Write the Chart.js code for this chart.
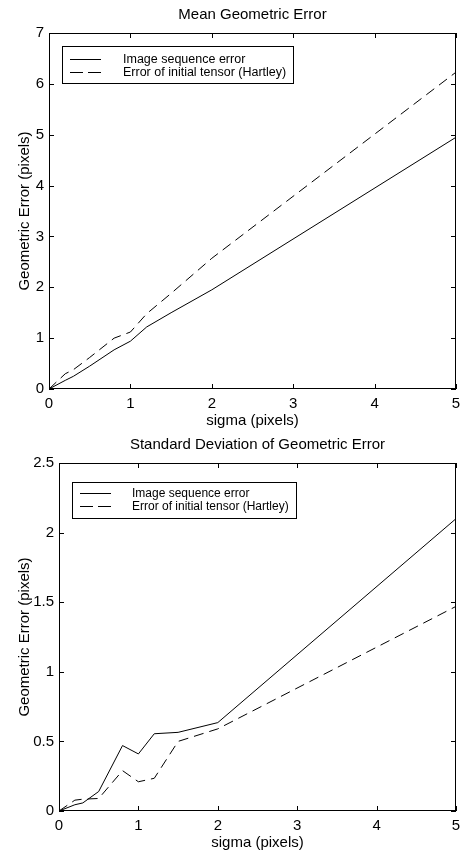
<!DOCTYPE html>
<html>
<head>
<meta charset="utf-8">
<script src="https://cdn.jsdelivr.net/npm/chart.js@4"></script>
<style>
  html, body { margin: 0; padding: 0; background: #fff; }
  .wrap { position: relative; width: 468px; }
  canvas { display: block; }
</style>
</head>
<body>
<div class="wrap" style="height:430px"><canvas id="meanChart"></canvas></div>
<div class="wrap" style="height:422px"><canvas id="stdChart"></canvas></div>
<script>
// sigma values (pixels)
const sigma = [0, 0.2, 0.3, 0.5, 0.8, 1.0, 1.2, 1.5, 2.0, 5.0];

// Mean geometric error
const meanSequence = [0, 0.17, 0.25, 0.45, 0.77, 0.94, 1.22, 1.5, 1.95, 4.95];
const meanHartley  = [0, 0.3, 0.38, 0.62, 1.0, 1.12, 1.48, 1.88, 2.57, 6.23];

// Standard deviation of geometric error
const stdSequence = [0, 0.045, 0.058, 0.14, 0.47, 0.41, 0.555, 0.565, 0.635, 2.1];
const stdHartley  = [0, 0.078, 0.085, 0.09, 0.29, 0.21, 0.235, 0.5, 0.59, 1.47];

const seriesLabels = ['Image sequence error', 'Error of initial tensor (Hartley)'];
const xTicks = [0, 1, 2, 3, 4, 5];
const meanYTicks = [0, 1, 2, 3, 4, 5, 6, 7];
const stdYTicks = [0, 0.5, 1, 1.5, 2, 2.5];

const FONT = 'Liberation Sans, Arial, Helvetica, sans-serif';

// frame with inward ticks on all four sides
const framePlugin = {
  id: 'frame',
  afterDraw(chart) {
    const { ctx, chartArea: a, scales } = chart;
    ctx.save();
    ctx.strokeStyle = '#000';
    ctx.lineWidth = 1;
    ctx.strokeRect(a.left + 0.5, a.top + 0.5, a.right - a.left - 1, a.bottom - a.top - 1);
    const len = 5;
    ctx.beginPath();
    scales.x.ticks.forEach(t => {
      const px = Math.round(scales.x.getPixelForValue(t.value)) + 0.5;
      ctx.moveTo(px, a.bottom); ctx.lineTo(px, a.bottom - len);
      ctx.moveTo(px, a.top); ctx.lineTo(px, a.top + len);
    });
    scales.y.ticks.forEach(t => {
      const py = Math.round(scales.y.getPixelForValue(t.value)) + 0.5;
      ctx.moveTo(a.left, py); ctx.lineTo(a.left + len, py);
      ctx.moveTo(a.right, py); ctx.lineTo(a.right - len, py);
    });
    ctx.stroke();
    ctx.restore();
  }
};

// title centred over the plot box (matlab style)
const plotTitlePlugin = {
  id: 'plotTitle',
  afterDraw(chart, args, opts) {
    const { ctx, chartArea: a } = chart;
    ctx.save();
    ctx.font = '15px ' + FONT;
    ctx.fillStyle = '#000';
    ctx.textAlign = 'center';
    ctx.textBaseline = 'middle';
    ctx.fillText(opts.text, (a.left + a.right) / 2, opts.y);
    ctx.restore();
  }
};

// boxed legend inside the plot area, like the original
const boxLegendPlugin = {
  id: 'boxLegend',
  afterDraw(chart, args, opts) {
    const { ctx, chartArea: a } = chart;
    const x = a.left + opts.dx, y = a.top + opts.dy;
    ctx.save();
    ctx.fillStyle = '#fff';
    ctx.fillRect(x, y, opts.w, opts.h);
    ctx.strokeStyle = '#000';
    ctx.lineWidth = 1;
    ctx.strokeRect(x + 0.5, y + 0.5, opts.w, opts.h);
    ctx.font = opts.fontSize + 'px ' + FONT;
    ctx.fillStyle = '#000';
    ctx.textBaseline = 'middle';
    chart.data.datasets.forEach((ds, i) => {
      const ly = Math.round(y + opts.row0 + i * opts.rowGap) + 0.5;
      ctx.beginPath();
      ctx.setLineDash(ds.borderDash ? [13, 5] : []);
      ctx.moveTo(x + 8, ly);
      ctx.lineTo(x + 39, ly);
      ctx.stroke();
      ctx.setLineDash([]);
      ctx.fillText(ds.label, x + opts.textX, ly);
    });
    ctx.restore();
  }
};

function makeChart(id, title, solid, dashed, yTicks, yMax, yWidth, legendOpts) {
  const ctx = document.getElementById(id).getContext('2d');
  return new Chart(ctx, {
    type: 'line',
    data: {
      datasets: [
        {
          label: seriesLabels[0],
          data: sigma.map((s, i) => ({ x: s, y: solid[i] })),
          borderColor: '#000',
          borderWidth: 1,
          pointRadius: 0,
          tension: 0
        },
        {
          label: seriesLabels[1],
          data: sigma.map((s, i) => ({ x: s, y: dashed[i] })),
          borderColor: '#000',
          borderWidth: 1,
          borderDash: [10, 6],
          pointRadius: 0,
          tension: 0
        }
      ]
    },
    options: {
      responsive: true,
      maintainAspectRatio: false,
      animation: false,
      layout: { padding: { left: 0, right: 12, top: 33, bottom: 0 } },
      plugins: {
        legend: { display: false },
        tooltip: { enabled: false },
        title: { display: false },
        plotTitle: { text: title, y: 15 },
        boxLegend: legendOpts
      },
      scales: {
        x: {
          type: 'linear',
          min: 0,
          max: 5,
          afterBuildTicks: s => { s.ticks = xTicks.map(v => ({ value: v })); },
          afterFit: s => { s.height = 41; },
          grid: { display: false, drawTicks: false },
          border: { display: false },
          ticks: { color: '#000', font: { family: FONT, size: 15 }, padding: 6, maxRotation: 0,
                   callback: v => String(v) },
          title: {
            display: true,
            text: 'sigma (pixels)',
            color: '#000',
            font: { family: FONT, size: 15 },
            padding: { top: 0, bottom: 0 }
          }
        },
        y: {
          type: 'linear',
          min: 0,
          max: yMax,
          afterBuildTicks: s => { s.ticks = yTicks.map(v => ({ value: v })); },
          afterFit: s => { s.width = yWidth; },
          grid: { display: false, drawTicks: false },
          border: { display: false },
          ticks: { color: '#000', font: { family: FONT, size: 15 }, padding: 5,
                   callback: v => String(v) },
          title: {
            display: true,
            text: 'Geometric Error (pixels)',
            color: '#000',
            font: { family: FONT, size: 15 },
            padding: { top: 16, bottom: 0 }
          }
        }
      }
    },
    plugins: [framePlugin, plotTitlePlugin, boxLegendPlugin]
  });
}

makeChart('meanChart', 'Mean Geometric Error', meanSequence, meanHartley, meanYTicks, 7, 49,
  { dx: 13, dy: 13, w: 231, h: 37, row0: 12.5, rowGap: 13, textX: 61, fontSize: 12.5 });
makeChart('stdChart', 'Standard Deviation of Geometric Error', stdSequence, stdHartley, stdYTicks, 2.5, 59,
  { dx: 13, dy: 19, w: 224, h: 36, row0: 11, rowGap: 13, textX: 60, fontSize: 12 });
</script>
</body>
</html>
